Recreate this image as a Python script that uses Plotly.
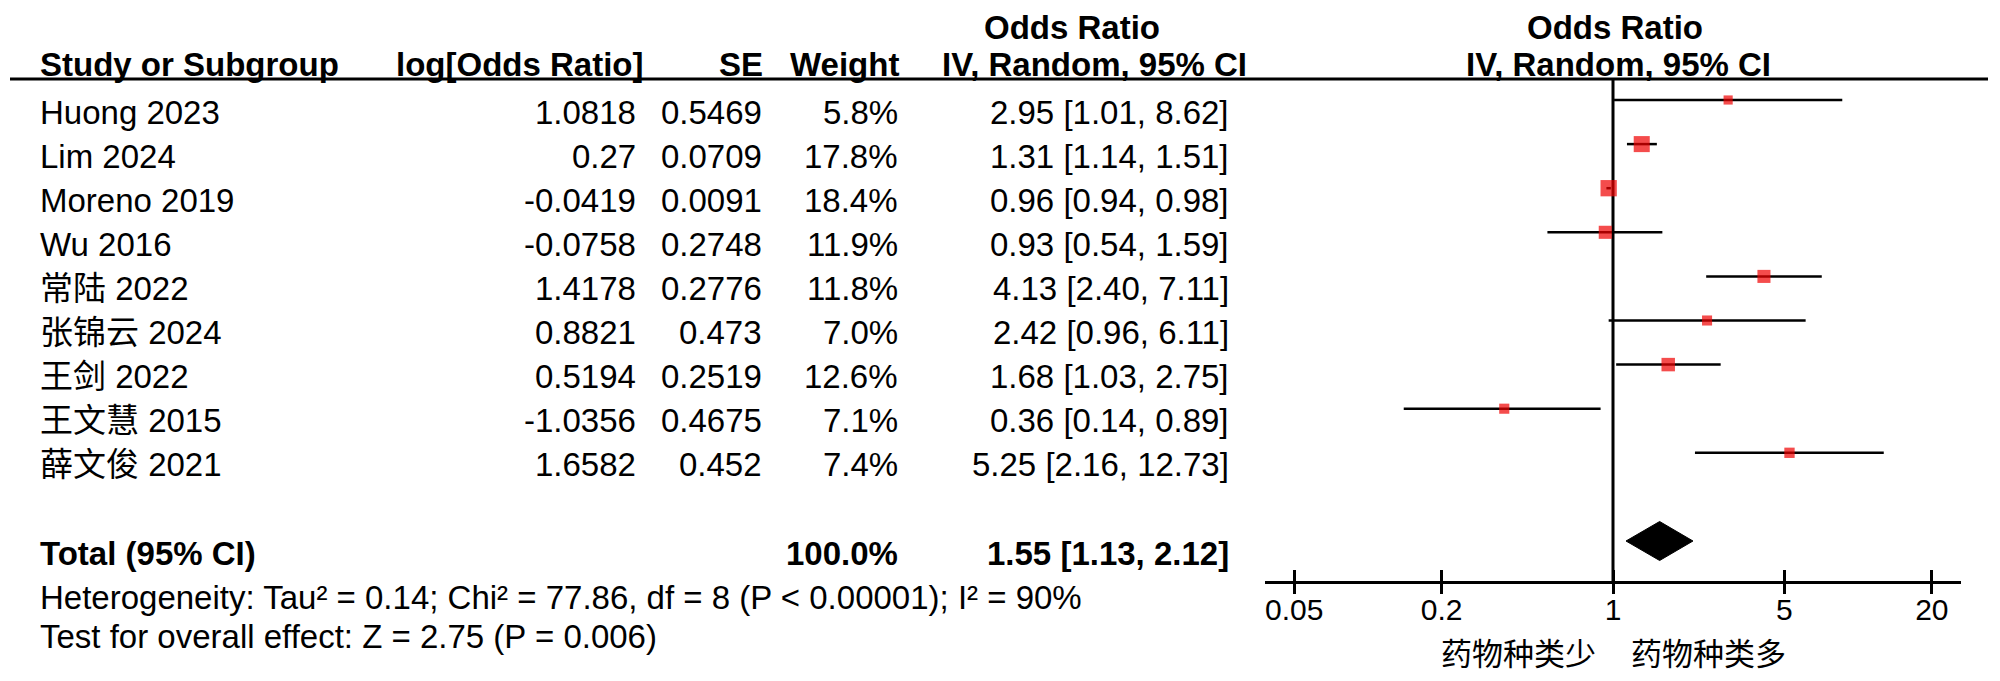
import math
import plotly.graph_objects as go

# ---------------- data ----------------
studies = ["Huong 2023", "Lim 2024", "Moreno 2019", "Wu 2016", "常陆 2022",
           "张锦云 2024", "王剑 2022", "王文慧 2015", "薛文俊 2021"]
log_or = [1.0818, 0.27, -0.0419, -0.0758, 1.4178, 0.8821, 0.5194, -1.0356, 1.6582]
se = [0.5469, 0.0709, 0.0091, 0.2748, 0.2776, 0.473, 0.2519, 0.4675, 0.452]
weight = [5.8, 17.8, 18.4, 11.9, 11.8, 7.0, 12.6, 7.1, 7.4]
odds = [2.95, 1.31, 0.96, 0.93, 4.13, 2.42, 1.68, 0.36, 5.25]
ci_low = [1.01, 1.14, 0.94, 0.54, 2.40, 0.96, 1.03, 0.14, 2.16]
ci_high = [8.62, 1.51, 0.98, 1.59, 7.11, 6.11, 2.75, 0.89, 12.73]
total_or, total_low, total_high = 1.55, 1.13, 2.12
total_weight = 100.0
tick_values = [0.05, 0.2, 1, 5, 20]
tick_labels = ["0.05", "0.2", "1", "5", "20"]
heterogeneity = "Heterogeneity: Tau² = 0.14; Chi² = 77.86, df = 8 (P < 0.00001); I² = 90%"
overall = "Test for overall effect: Z = 2.75 (P = 0.006)"
favours = ["药物种类少", "药物种类多"]

# ---------------- layout constants ----------------
W, H = 2000, 681
ROW0, STEP = 92.0, 44.1          # pixel of first mark row, row spacing
TEXT_DY = 12.0 / STEP            # text sits a little lower than marks
FONT = "Liberation Sans, Arial, Noto Sans CJK SC, sans-serif"
FS = 33
AX_LEFT, AX_RIGHT = 1257, 1953
AXIS_PX = 574
HEADER_LINE_PX = 71


def row_of(px):
    return (px - ROW0) / STEP


n = len(studies)
total_row = n + 1

fig = go.Figure()

# vertical line at OR = 1
fig.add_trace(go.Scatter(x=[1, 1], y=[row_of(HEADER_LINE_PX), row_of(AXIS_PX)],
                         mode="lines", line=dict(color="black", width=3),
                         hoverinfo="skip", showlegend=False))

# CI lines
xs, ys = [], []
for i in range(n):
    xs += [ci_low[i], ci_high[i], None]
    ys += [i, i, None]
fig.add_trace(go.Scatter(x=xs, y=ys, mode="lines",
                         line=dict(color="black", width=2.5),
                         hoverinfo="skip", showlegend=False))

# squares (side proportional to sqrt of weight)
fig.add_trace(go.Scatter(x=odds, y=list(range(n)), mode="markers",
                         marker=dict(symbol="square", color="#f00000",
                                     size=[3.8 * math.sqrt(w) for w in weight],
                                     line=dict(width=0)),
                         hoverinfo="skip", showlegend=False))

# diamond
dh = 19.5 / STEP
fig.add_trace(go.Scatter(x=[total_low, total_or, total_high, total_or, total_low],
                         y=[total_row, total_row - dh, total_row, total_row + dh, total_row],
                         mode="lines", fill="toself", fillcolor="black",
                         line=dict(color="black", width=1),
                         hoverinfo="skip", showlegend=False))

# invisible trace for the second (outside-tick) axis
fig.add_trace(go.Scatter(x=[1], y=[0], xaxis="x2", mode="markers",
                         marker=dict(opacity=0), hoverinfo="skip", showlegend=False))

ann = []


def txt(text, xpx, row, anchor="left", bold=False, size=FS):
    if bold:
        text = "<b>" + text + "</b>"
    ann.append(dict(text=text, x=xpx / W, xref="paper", y=row, yref="y",
                    xanchor=anchor, yanchor="middle", showarrow=False,
                    font=dict(family=FONT, size=size, color="black")))


# headers
h1 = row_of(19)
h2 = row_of(56)
txt("Odds Ratio", 1064, h1, "center", bold=True)
txt("Odds Ratio", 1607, h1, "center", bold=True)
txt("Study or Subgroup", 30, h2, "left", bold=True)
txt("log[Odds Ratio]", 637, h2, "right", bold=True)
txt("SE", 757, h2, "right", bold=True)
txt("Weight", 893, h2, "right", bold=True)
txt("IV, Random, 95% CI", 1241, h2, "right", bold=True)
txt("IV, Random, 95% CI", 1610, h2, "center", bold=True)

# study rows
for i in range(n):
    r = i + TEXT_DY
    txt(studies[i], 30, r, "left")
    txt(str(log_or[i]), 630, r, "right")
    txt(str(se[i]), 756, r, "right")
    txt(f"{weight[i]:.1f}%", 892, r, "right")
    txt(f"{odds[i]:.2f} [{ci_low[i]:.2f}, {ci_high[i]:.2f}]", 1223, r, "right")

# total rows
r = total_row + TEXT_DY
txt("Total (95% CI)", 30, r, "left", bold=True)
txt(f"{total_weight:.1f}%", 892, r, "right", bold=True)
txt(f"{total_or:.2f} [{total_low:.2f}, {total_high:.2f}]", 1223, r, "right", bold=True)
txt(heterogeneity, 30, total_row + 1 + TEXT_DY, "left")
txt(overall, 30, total_row + 2 + TEXT_DY - 0.1, "left")

# favours labels
fr = row_of(646)
txt(favours[0], 1590, fr, "right", size=31)
txt(favours[1], 1621, fr, "left", size=31)

shapes = [dict(type="line", xref="paper", x0=2 / W, x1=1980 / W, yref="y",
               y0=row_of(HEADER_LINE_PX), y1=row_of(HEADER_LINE_PX),
               line=dict(color="black", width=3))]

lo_dec = -1.42
hi_dec = 1.42
axis_pos = 1 - AXIS_PX / H

fig.update_layout(
    width=W, height=H, margin=dict(l=0, r=0, t=0, b=0),
    paper_bgcolor="white", plot_bgcolor="white",
    annotations=ann, shapes=shapes, showlegend=False,
    xaxis=dict(type="log", range=[lo_dec, hi_dec],
               domain=[AX_LEFT / W, AX_RIGHT / W], anchor="free", position=axis_pos,
               showline=True, linecolor="black", linewidth=3,
               ticks="inside", ticklen=11, tickwidth=2.5, tickcolor="black",
               tickvals=tick_values, ticktext=tick_labels,
               tickfont=dict(family=FONT, size=30, color="black"),
               showgrid=False, zeroline=False),
    xaxis2=dict(type="log", overlaying="x", matches="x", anchor="free", position=axis_pos,
                ticks="outside", ticklen=11, tickwidth=2.5, tickcolor="black",
                tickvals=tick_values, showticklabels=False, showline=False,
                showgrid=False, zeroline=False),
    yaxis=dict(range=[row_of(H), row_of(0)], domain=[0, 1], visible=False,
               showgrid=False, zeroline=False),
)

fig.write_html("out.html")
